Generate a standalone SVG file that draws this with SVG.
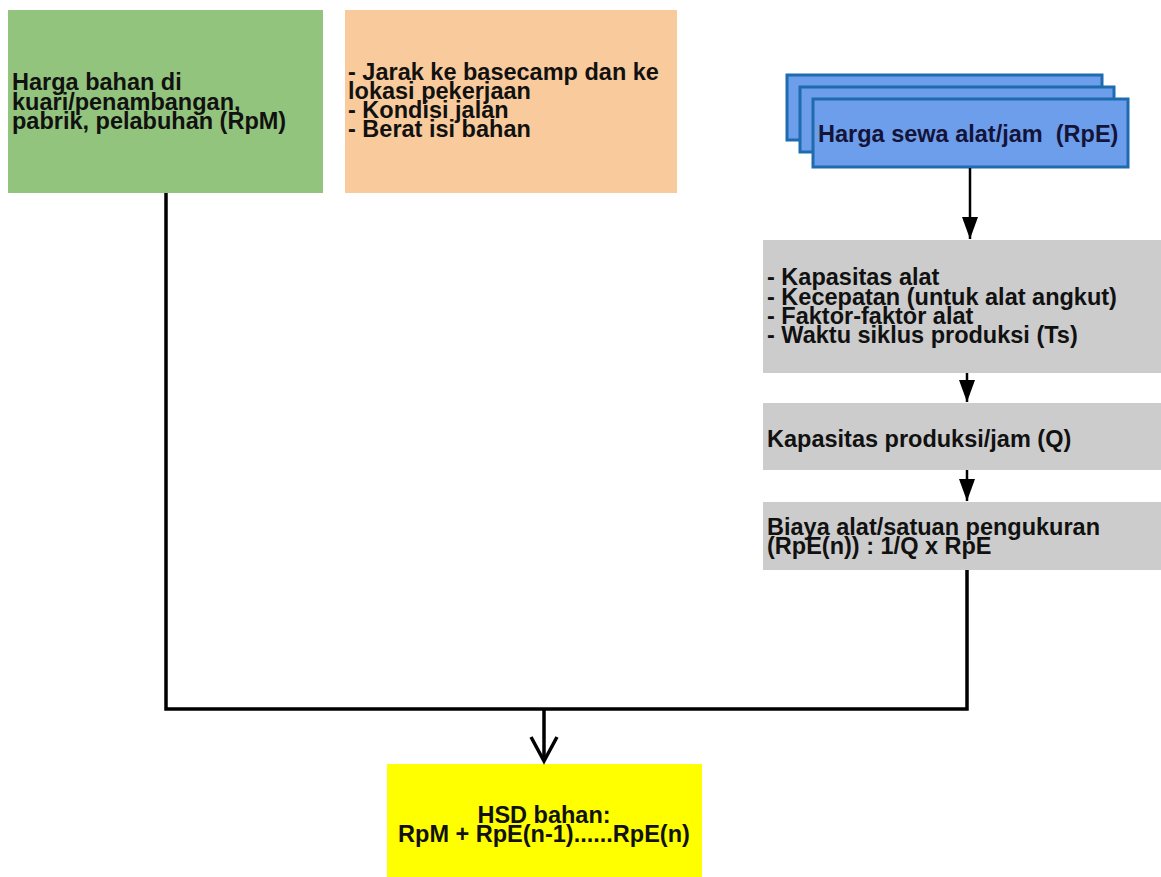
<svg xmlns="http://www.w3.org/2000/svg" width="1161" height="877" viewBox="0 0 1161 877">
<style>
text{font-family:"Liberation Sans",Arial,sans-serif;font-weight:bold;font-size:23.5px;fill:#111;}
.conn{stroke:#000;stroke-width:3.5;fill:none;}
.flow{stroke:#000;stroke-width:2.5;fill:none;}
.blue{fill:#6d9eeb;stroke:#1f6bb0;stroke-width:3;}
.gray{fill:#cccccc;}
</style>
<defs>
<marker id="tri" markerUnits="userSpaceOnUse" markerWidth="22" markerHeight="16" refX="22" refY="8" orient="auto" viewBox="0 0 22 16">
<path d="M0,0 L22,8 L0,16 Z" fill="#000"/>
</marker>
</defs>
<rect width="1161" height="877" fill="#fff"/>
<g id="node-rpm">
<rect x="8" y="10" width="315" height="183" fill="#93c47d"/>
<text x="12" y="90">Harga bahan di</text>
<text x="12" y="110">kuari/penambangan,</text>
<text x="12" y="129">pabrik, pelabuhan (RpM)</text>
</g>
<g id="node-jarak">
<rect x="345" y="10" width="332" height="183" fill="#f9cb9c"/>
<text x="348" y="80">- Jarak ke basecamp dan ke</text>
<text x="348" y="99">lokasi pekerjaan</text>
<text x="348" y="118">- Kondisi jalan</text>
<text x="348" y="137">- Berat isi bahan</text>
</g>
<g id="node-rpe">
<rect class="blue" x="787" y="75" width="315" height="65"/>
<rect class="blue" x="800" y="87" width="314" height="65"/>
<rect class="blue" x="813" y="99" width="315" height="68"/>
<text x="818" y="142" xml:space="preserve" style="fill:#14143a">Harga sewa alat/jam  (RpE)</text>
</g>
<g id="node-kapasitas-alat">
<rect class="gray" x="763" y="240" width="398" height="133"/>
<text x="767" y="285">- Kapasitas alat</text>
<text x="767" y="305">- Kecepatan (untuk alat angkut)</text>
<text x="767" y="324">- Faktor-faktor alat</text>
<text x="767" y="343">- Waktu siklus produksi (Ts)</text>
</g>
<g id="node-q">
<rect class="gray" x="763" y="403" width="398" height="67"/>
<text x="767" y="447">Kapasitas produksi/jam (Q)</text>
</g>
<g id="node-biaya">
<rect class="gray" x="763" y="502" width="398" height="68"/>
<text x="767" y="535">Biaya alat/satuan pengukuran</text>
<text x="767" y="554">(RpE(n)) : 1/Q x RpE</text>
</g>
<g id="node-hsd">
<rect x="387" y="764" width="315" height="113" fill="#ffff00"/>
<text x="544" y="823" text-anchor="middle">HSD bahan:</text>
<text x="544" y="842" text-anchor="middle">RpM + RpE(n-1)......RpE(n)</text>
</g>
<g id="connectors">
<line class="flow" x1="970" y1="168" x2="970" y2="239" marker-end="url(#tri)"/>
<line class="flow" x1="967" y1="373" x2="967" y2="402" marker-end="url(#tri)"/>
<line class="flow" x1="967" y1="470" x2="967" y2="501" marker-end="url(#tri)"/>
<polyline class="conn" points="166,193 166,709 967,709 967,570"/>
<line class="conn" x1="544" y1="709" x2="544" y2="761"/>
<polyline class="conn" points="531,737 544,761 557,737"/>
</g>
</svg>
